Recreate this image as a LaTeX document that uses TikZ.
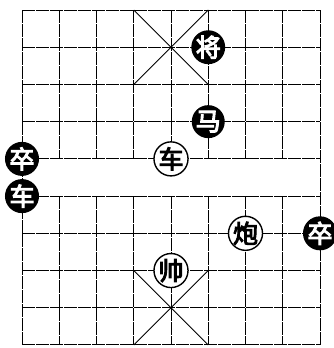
\documentclass[tikz,border=0pt]{standalone}
\usepackage{fontspec}
\newfontfamily\cjk[AutoFakeBold=4]{Noto Sans CJK SC}
\newcommand{\pfont}{\cjk\bfseries\fontsize{25pt}{25pt}\selectfont}
\begin{document}
\begin{tikzpicture}[
  gridline/.style={line width=1pt, black, dash pattern=on 13pt off 1pt},
  piece/.style={circle, minimum size=30pt, inner sep=0pt, font=\pfont},
  blackpiece/.style={piece, fill=black, text=white},
  whitepiece/.style={piece, fill=white, draw=black, line width=1.4pt, text=black}
]
\useasboundingbox (0,0) rectangle (334pt,-348pt);
\begin{scope}[shift={(22pt,-10pt)}, x=37.25pt, y=-37.22pt]
  % horizontal lines
  \foreach \r in {0,...,9} \draw[gridline] (0,\r) -- (8,\r);
  % edge verticals
  \draw[gridline] (0,0) -- (0,9);
  \draw[gridline] (8,0) -- (8,9);
  % inner verticals
  \foreach \c in {1,...,7} {
    \draw[gridline] (\c,0) -- (\c,4);
    \draw[gridline] (\c,5) -- (\c,9);
  }
  % palaces
  \draw[line width=0.8pt] (3,0) -- (5,2) (5,0) -- (3,2);
  \draw[line width=0.8pt] (3,7) -- (5,9) (5,7) -- (3,9);
  % pieces
  \node[blackpiece] (jiang) at (5,1) {\pfont 将};
  \node[blackpiece] (ma) at (5,3) {\pfont 马};
  \node[blackpiece] (zuL) at (0,4) {\pfont 卒};
  \node[whitepiece] (cheW) at (4,4) {\pfont 车};
  \node[blackpiece] (cheB) at (0,5) {\pfont 车};
  \node[whitepiece] (pao) at (6,6) {\pfont 炮};
  \node[blackpiece] (zuR) at (8,6) {\pfont 卒};
  \node[whitepiece] (shuai) at (4,7) {\pfont 帅};
\end{scope}
\end{tikzpicture}
\end{document}
